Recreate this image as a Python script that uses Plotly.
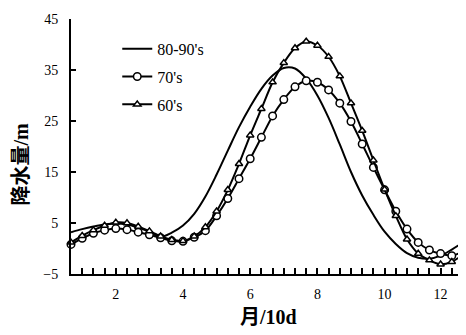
import plotly.graph_objects as go

# 10-day period index (1..36)
decades = list(range(1, 37))

s_8090 = [3.2, 3.8, 4.3, 4.7, 4.9, 4.7, 4.1, 3.3, 2.3, 3.1, 4.5, 6.8, 10.2, 14.5, 19.2, 23.8,
          27.8, 31.3, 33.9, 35.4, 35.3, 33.3, 30.0, 25.6, 20.4, 15.0, 10.4, 6.6, 3.3, 0.9,
          -0.9, -1.8, -2.0, -1.4, -0.2, 1.2]
s_70 = [0.8, 2.0, 3.0, 3.6, 3.9, 3.7, 3.2, 2.7, 2.1, 1.5, 1.4, 2.2, 3.5, 6.4, 9.8, 13.7,
        17.6, 21.8, 26.0, 29.2, 31.7, 32.9, 32.6, 31.1, 28.5, 24.9, 20.5, 15.9, 11.5, 7.3,
        3.8, 1.2, -0.3, -1.0, -1.4, -0.6]
s_60 = [1.2, 2.5, 3.6, 4.5, 5.1, 5.0, 4.3, 3.4, 2.4, 1.7, 1.5, 2.4, 4.2, 7.3, 11.5, 16.6,
        22.2, 27.4, 32.6, 36.4, 39.3, 40.6, 39.8, 37.6, 33.8, 28.5, 23.1, 17.3, 11.6, 6.4,
        1.8, -1.0, -2.3, -3.1, -2.6, -1.2]

month_tick_pos = [5, 11, 17, 23, 29, 34]
month_tick_text = ["2", "4", "6", "8", "10", "12"]
y_ticks = [-5, 5, 15, 25, 35, 45]

names = ["80-90's", "70's", "60's"]

SERIF = "Liberation Serif, Times New Roman, serif"
TITLE_FONT = "Liberation Serif, Noto Sans CJK SC"

fig = go.Figure()
fig.add_trace(go.Scatter(x=decades, y=s_8090, name=names[0], mode="lines",
                         line=dict(color="black", width=2, shape="spline", smoothing=1.0),
                         legendgroup="a", cliponaxis=False))
fig.add_trace(go.Scatter(x=decades, y=s_70, name=names[1], mode="lines+markers",
                         line=dict(color="black", width=2, shape="spline", smoothing=0.8),
                         marker=dict(symbol="circle", size=7.5, color="white",
                                     line=dict(color="black", width=1.5)),
                         legendgroup="b", cliponaxis=False))
fig.add_trace(go.Scatter(x=decades, y=s_60, name=names[2], mode="lines+markers",
                         line=dict(color="black", width=2, shape="spline", smoothing=0.8),
                         marker=dict(symbol="triangle-up", size=6.5, color="white",
                                     line=dict(color="black", width=1.5)),
                         legendgroup="c", cliponaxis=False))

ticktext = [month_tick_text[month_tick_pos.index(d)] if d in month_tick_pos else "" for d in decades]

fig.update_layout(
    width=466, height=335,
    margin=dict(l=63, r=11, t=4, b=69),
    paper_bgcolor="white", plot_bgcolor="white",
    font=dict(family=SERIF, size=14, color="black"),
    showlegend=True,
    legend=dict(x=0.118, y=0.95, xanchor="left", yanchor="top",
                bgcolor="rgba(0,0,0,0)", font=dict(family=SERIF, size=16),
                tracegroupgap=4, itemwidth=30),
    xaxis=dict(range=[1, 36], tickmode="array", tickvals=decades, ticktext=ticktext,
               ticks="inside", ticklen=6, tickwidth=2, tickcolor="black",
               showline=True, linecolor="black", linewidth=2, showgrid=False,
               zeroline=False, tickfont=dict(family=SERIF, size=14),
               ticklabelstandoff=6, ticklabeloverflow="allow"),
    yaxis=dict(range=[-5, 45], tickmode="array", tickvals=y_ticks,
               ticks="inside", ticklen=5, tickwidth=2, tickcolor="black",
               showline=True, linecolor="black", linewidth=2, showgrid=False,
               zeroline=False, tickfont=dict(family=SERIF, size=14),
               ticklabelstandoff=8, ticklabeloverflow="allow"),
    annotations=[
        dict(text="<b>降水量/m</b>", xref="paper", yref="paper", x=-0.127, y=0.43,
             xanchor="center", yanchor="middle", textangle=-90, showarrow=False,
             font=dict(family=TITLE_FONT, size=20, color="black")),
        dict(text="<b>月/10d</b>", xref="paper", yref="paper", x=0.503, y=-0.168,
             xanchor="center", yanchor="middle", showarrow=False,
             font=dict(family=TITLE_FONT, size=20, color="black")),
    ],
)

fig.write_html("out.html")
